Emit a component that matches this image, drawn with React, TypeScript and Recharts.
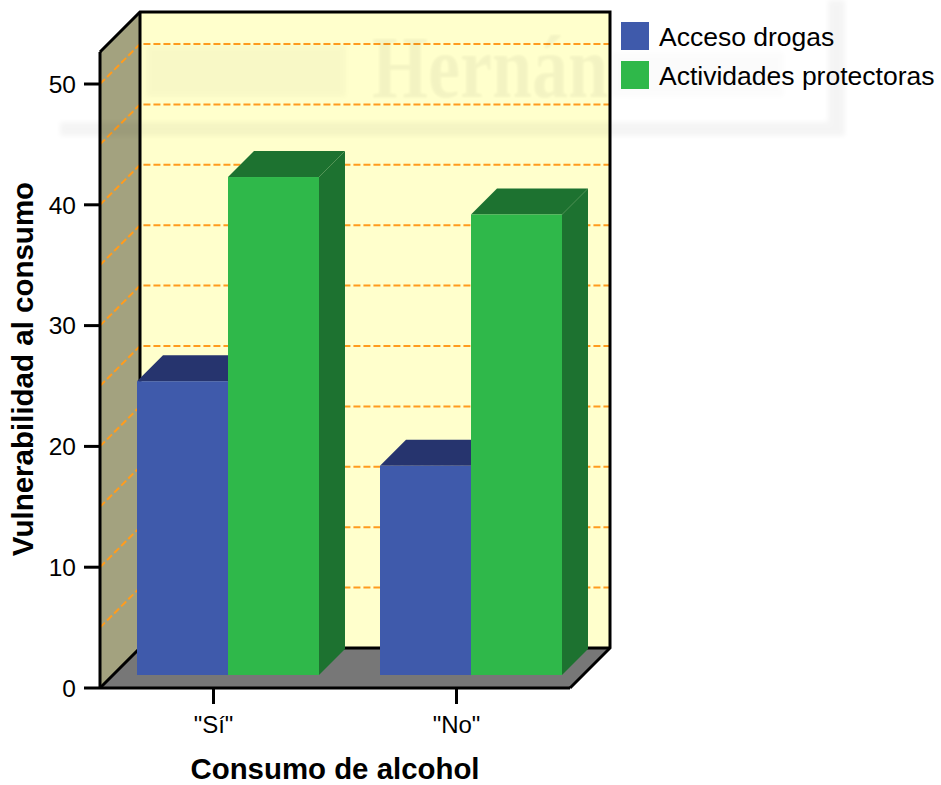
import React from "react";
import { BarChart, Bar, XAxis, YAxis, Legend, usePlotArea } from "recharts";

const categories = ['"Sí"', '"No"'];
const accesoDrogas = [25.4, 18.4];
const actividadesProtectoras = [42.3, 39.2];
const yTicks = [0, 10, 20, 30, 40, 50];
const gridValues = [5, 10, 15, 20, 25, 30, 35, 40, 45, 50];
const yMax = 52.65;

const data = categories.map((c, i) => ({
  name: c,
  acceso: accesoDrogas[i],
  actividades: actividadesProtectoras[i],
}));

const FONT = "Liberation Sans, Arial, sans-serif";
const WALL_DEPTH = 40;
const BAR_DX = 14;
const BAR_LIFT = 13;
const BAR_DEPTH = 26;

// back wall, side wall and floor of the 3d box, under the bars
function Walls() {
  const plot = usePlotArea();
  if (!plot) return null;
  const { x, y, width, height } = plot;
  const d = WALL_DEPTH;
  const right = x + width;
  const bottom = y + height;
  const yOf = (v: number) => bottom - (v / yMax) * height;
  return (
    <g>
      <defs>
        <filter id="soft" x="-10%" y="-50%" width="120%" height="200%">
          <feGaussianBlur stdDeviation="2.5" />
        </filter>
        <filter id="softText" x="-5%" y="-20%" width="110%" height="140%">
          <feGaussianBlur stdDeviation="1" />
        </filter>
      </defs>
      <polygon points={`${x + d},${y - d} ${right + d},${y - d} ${right + d},${bottom - d} ${x + d},${bottom - d}`} fill="#ffffcc" />
      <polygon points={`${x},${y} ${x + d},${y - d} ${x + d},${bottom - d} ${x},${bottom}`} fill="#a3a27f" />
      <polygon points={`${x},${bottom} ${x + d},${bottom - d} ${right + d},${bottom - d} ${right},${bottom}`} fill="#777777" />
      {gridValues.map((v) => (
        <polyline
          key={v}
          points={`${x},${yOf(v)} ${x + d},${yOf(v) - d} ${right + d},${yOf(v) - d}`}
          fill="none"
          stroke="#ff9c1e"
          strokeWidth={2}
          strokeDasharray="7 3"
        />
      ))}
      {/* faint page watermark that shows through the picture */}
      <path d="M60 122H845V136H60ZM828 0H845V122H828Z" fill="#000" opacity={0.04} filter="url(#soft)" />
      <rect x={146} y={45} width={200} height={52} fill="#000" opacity={0.025} filter="url(#soft)" />
      <rect x={612} y={52} width={172} height={45} fill="#000" opacity={0.012} filter="url(#soft)" />
      <text x={372} y={97} fontFamily="Liberation Serif, serif" fontWeight="bold" fontSize={88} textLength={236} lengthAdjust="spacingAndGlyphs" fill="#000" opacity={0.045} filter="url(#softText)">
        Hernán
      </text>
      <polyline
        points={`${x},${y} ${x + d},${y - d} ${right + d},${y - d} ${right + d},${bottom - d} ${right},${bottom}`}
        fill="none"
        stroke="#000"
        strokeWidth={3}
      />
      <polyline points={`${x},${bottom} ${x + d},${bottom - d} ${right + d},${bottom - d}`} fill="none" stroke="#000" strokeWidth={3} />
      <line x1={x + d} y1={y - d} x2={x + d} y2={bottom - d} stroke="#000" strokeWidth={3} />
    </g>
  );
}

function Box3D(props: any) {
  const { x, y, width, height, fill, sideFill } = props;
  const l = x + BAR_DX;
  const r = l + width;
  const b = y + height - BAR_LIFT;
  const d = BAR_DEPTH;
  return (
    <g>
      <polygon points={`${l},${y} ${l + d},${y - d} ${r + d},${y - d} ${r},${y}`} fill={sideFill} />
      <polygon points={`${r},${y} ${r + d},${y - d} ${r + d},${b - d} ${r},${b}`} fill={sideFill} />
      <rect x={l} y={y} width={width} height={b - y} fill={fill} />
    </g>
  );
}

function LegendBox({ payload }: any) {
  return (
    <div>
      {(payload || []).map((p: any) => (
        <div key={p.value} style={{ display: "flex", alignItems: "center", height: 39, whiteSpace: "nowrap" }}>
          <span style={{ width: 28, height: 28, background: p.color, marginRight: 10 }} />
          <span style={{ fontFamily: FONT, fontSize: 26.5, color: "#000", position: "relative", top: 2 }}>{p.value}</span>
        </div>
      ))}
    </div>
  );
}

function YTitle({ viewBox }: any) {
  const cy = viewBox.y + viewBox.height / 2 - 1;
  return (
    <text x={33} y={cy} transform={`rotate(-90 33 ${cy})`} textAnchor="middle" fill="#000" fontSize={29.5} fontWeight="bold" fontFamily={FONT}>
      Vulnerabilidad al consumo
    </text>
  );
}

export default function App() {
  return (
    <div style={{ position: "absolute", left: 0, top: 0, width: 941, height: 785, background: "#fff" }}>
      <BarChart
        width={941}
        height={785}
        data={data}
        margin={{ top: 52, right: 371, bottom: 0, left: 0 }}
        barGap={0}
        barSize={91}
      >
        <Walls />
        <XAxis
          dataKey="name"
          height={97}
          padding={{ left: -8, right: -8 }}
          tickSize={16}
          tickMargin={12}
          tickLine={{ stroke: "#000", strokeWidth: 3 }}
          axisLine={{ stroke: "#000", strokeWidth: 3 }}
          tick={{ fill: "#000", fontSize: 24, fontFamily: FONT }}
          label={{ value: "Consumo de alcohol", position: "insideBottom", offset: 6, fill: "#000", fontSize: 29.4, fontWeight: "bold", fontFamily: FONT }}
        />
        <YAxis
          width={100}
          domain={[0, yMax]}
          ticks={yTicks}
          interval={0}
          tickSize={16}
          tickMargin={8}
          tickLine={{ stroke: "#000", strokeWidth: 3 }}
          axisLine={{ stroke: "#000", strokeWidth: 3 }}
          tick={{ fill: "#000", fontSize: 24.5, fontFamily: FONT }}
          label={{ content: (p: any) => <YTitle {...p} /> }}
        />
        <Legend
          layout="vertical"
          align="center"
          verticalAlign="middle"
          content={<LegendBox />}
          wrapperStyle={{ left: 621, top: 16, width: 320, height: 78, bottom: "auto", right: "auto" }}
        />
        <Bar dataKey="acceso" name="Acceso drogas" fill="#3f5aab" isAnimationActive={false} shape={(p: any) => <Box3D {...p} sideFill="#26346e" />} />
        <Bar dataKey="actividades" name="Actividades protectoras" fill="#2fb84a" isAnimationActive={false} shape={(p: any) => <Box3D {...p} sideFill="#1d7230" />} />
      </BarChart>
    </div>
  );
}
